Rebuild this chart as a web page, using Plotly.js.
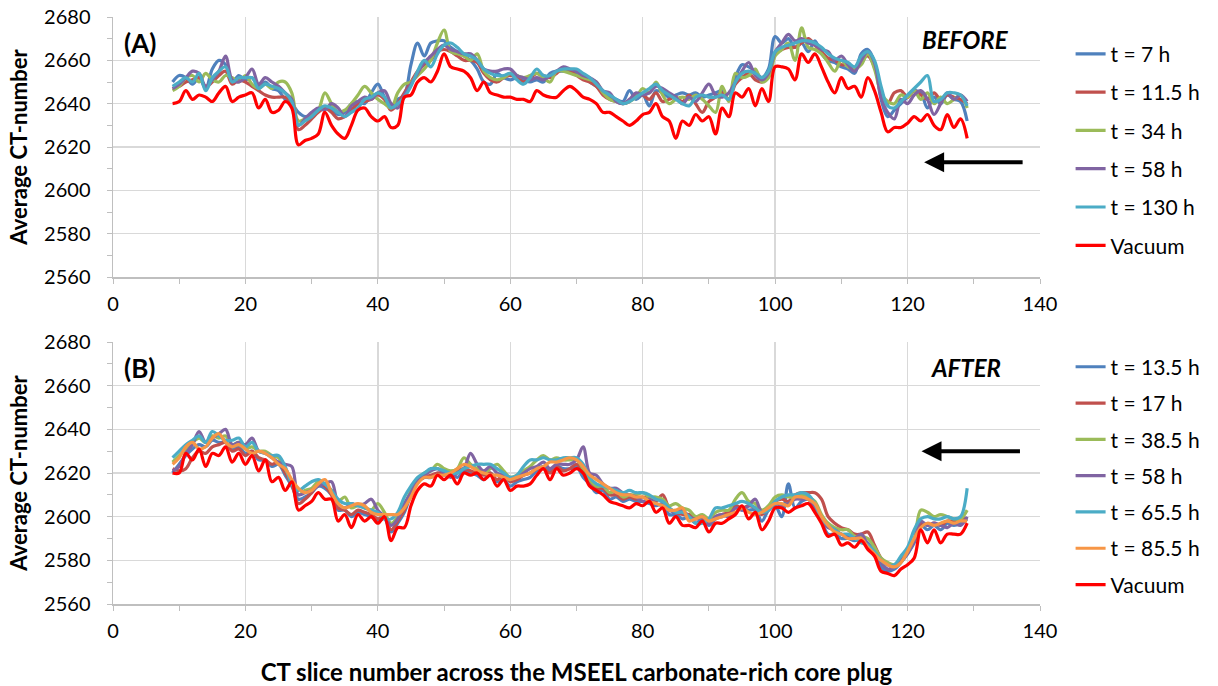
<!DOCTYPE html>
<html>
<head>
<meta charset="utf-8">
<script src="https://cdn.plot.ly/plotly-3.0.1.min.js"></script>
<style>html,body{margin:0;padding:0;background:#fff;}#chart{width:1218px;height:686px;}</style>
</head>
<body>
<div id="chart"></div>
<script>
// CT slice numbers
const slices = [9,10,11,12,13,14,15,16,17,18,19,20,21,22,23,24,25,26,27,28,29,30,31,32,33,34,35,36,37,38,39,40,41,42,43,44,45,46,47,48,49,50,51,52,53,54,55,56,57,58,59,60,61,62,63,64,65,66,67,68,69,70,71,72,73,74,75,76,77,78,79,80,81,82,83,84,85,86,87,88,89,90,91,92,93,94,95,96,97,98,99,100,101,102,103,104,105,106,107,108,109,110,111,112,113,114,115,116,117,118,119,120,121,122,123,124,125,126,127,128,129];

// Panel A (BEFORE)
const namesA = ["t = 7 h","t = 11.5 h","t = 34 h","t = 58 h","t = 130 h","Vacuum"];
const a_t7 = [2650,2653,2652,2649,2652,2647,2656,2660,2658,2650,2653,2651,2652,2648,2650,2647,2646,2642,2640,2636,2634,2635,2637,2638,2637,2635,2636,2640,2641,2640,2645,2649,2643,2639,2642,2644,2658,2668,2662,2668,2669,2669,2666,2664,2662,2660,2656,2650,2649,2654,2652,2651,2652,2651,2650,2651,2650,2654,2655,2655,2655,2654,2653,2650,2648,2645,2643,2642,2641,2646,2642,2644,2639,2646,2645,2643,2644,2645,2644,2645,2643,2644,2645,2646,2642,2652,2658,2657,2655,2652,2656,2671,2668,2670,2666,2668,2664,2669,2663,2660,2659,2657,2656,2654,2663,2665,2659,2642,2634,2637,2640,2643,2646,2645,2638,2643,2640,2644,2642,2641,2632];
const a_t11 = [2647,2648,2650,2651,2652,2648,2650,2653,2655,2649,2651,2650,2648,2646,2644,2643,2643,2643,2640,2628,2630,2633,2636,2638,2636,2633,2634,2637,2640,2641,2642,2644,2642,2637,2640,2645,2650,2655,2658,2660,2664,2665,2664,2662,2660,2660,2659,2654,2651,2650,2652,2653,2652,2650,2652,2654,2653,2652,2654,2656,2655,2653,2651,2650,2648,2644,2642,2641,2640,2641,2644,2644,2642,2645,2641,2642,2643,2641,2644,2640,2636,2641,2643,2645,2642,2649,2652,2654,2651,2650,2653,2663,2665,2666,2666,2668,2670,2667,2664,2661,2660,2658,2658,2656,2660,2662,2657,2646,2640,2645,2646,2643,2646,2644,2642,2645,2642,2644,2643,2642,2640];
const a_t34 = [2646,2648,2652,2653,2650,2654,2651,2650,2653,2652,2650,2653,2649,2647,2649,2647,2650,2650,2645,2632,2633,2635,2637,2645,2640,2636,2637,2640,2644,2648,2645,2642,2640,2638,2645,2649,2650,2653,2656,2660,2668,2674,2664,2663,2662,2660,2663,2655,2652,2651,2652,2654,2653,2652,2653,2654,2652,2650,2655,2655,2654,2653,2652,2651,2650,2645,2642,2641,2640,2641,2643,2647,2645,2650,2644,2640,2642,2643,2642,2644,2642,2639,2636,2648,2641,2654,2652,2653,2656,2650,2652,2662,2665,2668,2660,2675,2666,2665,2663,2659,2655,2660,2657,2656,2658,2663,2656,2645,2641,2640,2644,2643,2646,2642,2645,2640,2643,2640,2642,2644,2638];
const a_t58 = [2647,2649,2652,2655,2654,2648,2651,2655,2662,2651,2650,2652,2656,2649,2652,2650,2648,2645,2642,2630,2633,2636,2638,2637,2640,2638,2634,2639,2641,2643,2642,2645,2646,2640,2638,2644,2649,2654,2659,2662,2665,2667,2665,2664,2663,2663,2660,2656,2655,2655,2656,2656,2653,2652,2651,2652,2651,2653,2655,2657,2656,2655,2653,2652,2650,2646,2645,2641,2640,2642,2645,2644,2645,2648,2647,2645,2643,2640,2643,2641,2645,2649,2644,2643,2645,2650,2655,2659,2653,2651,2654,2664,2668,2672,2669,2670,2668,2667,2665,2664,2660,2662,2658,2655,2660,2664,2659,2643,2636,2633,2642,2640,2644,2646,2642,2635,2640,2645,2642,2644,2641];
const a_t130 = [2648,2650,2652,2650,2654,2646,2652,2655,2657,2650,2652,2652,2652,2647,2649,2648,2647,2645,2641,2630,2632,2634,2637,2639,2638,2636,2634,2636,2638,2642,2643,2645,2643,2638,2640,2643,2648,2655,2660,2657,2663,2667,2668,2666,2663,2662,2660,2656,2654,2653,2653,2654,2651,2649,2652,2656,2653,2653,2655,2656,2656,2656,2654,2652,2649,2646,2644,2642,2640,2641,2643,2645,2647,2649,2646,2644,2642,2640,2639,2643,2644,2643,2643,2644,2642,2650,2654,2655,2654,2652,2655,2664,2666,2667,2668,2669,2669,2668,2666,2663,2661,2660,2659,2657,2662,2664,2660,2648,2639,2638,2641,2644,2647,2650,2653,2641,2642,2645,2645,2644,2639];
const a_vac = [2640,2641,2646,2642,2644,2643,2641,2645,2648,2641,2643,2644,2645,2638,2642,2636,2637,2641,2638,2621,2623,2624,2626,2636,2630,2626,2624,2630,2637,2638,2634,2632,2634,2629,2630,2643,2644,2650,2652,2650,2655,2663,2657,2656,2655,2652,2646,2650,2645,2644,2643,2643,2642,2642,2641,2646,2644,2643,2643,2646,2648,2646,2643,2642,2640,2636,2636,2634,2632,2630,2632,2635,2636,2640,2634,2632,2624,2632,2630,2635,2632,2634,2626,2638,2634,2645,2643,2647,2639,2647,2641,2657,2657,2656,2651,2663,2659,2663,2657,2650,2645,2652,2647,2648,2643,2652,2646,2636,2627,2629,2629,2631,2634,2632,2635,2630,2628,2635,2629,2633,2624];

// Panel B (AFTER)
const namesB = ["t = 13.5 h","t = 17 h","t = 38.5 h","t = 58 h","t = 65.5 h","t = 85.5 h","Vacuum"];
const b_t13 = [2620,2624,2628,2631,2633,2632,2635,2634,2634,2631,2632,2629,2630,2626,2626,2623,2624,2619,2614,2608,2609,2611,2614,2613,2610,2603,2603,2600,2602,2601,2600,2598,2599,2593,2597,2602,2610,2616,2618,2618,2620,2619,2620,2618,2621,2620,2619,2617,2620,2616,2617,2614,2616,2617,2618,2621,2623,2621,2623,2622,2622,2623,2618,2615,2611,2612,2608,2609,2607,2608,2607,2607,2606,2605,2606,2601,2601,2599,2600,2597,2599,2596,2599,2600,2601,2604,2603,2603,2603,2598,2603,2605,2600,2615,2604,2607,2608,2605,2598,2592,2592,2590,2590,2589,2590,2588,2584,2577,2575,2576,2579,2583,2588,2596,2594,2596,2594,2597,2596,2597,2599];
const b_t17 = [2622,2621,2622,2627,2630,2629,2632,2633,2634,2630,2631,2628,2630,2627,2626,2624,2625,2620,2615,2606,2608,2611,2615,2614,2610,2604,2603,2601,2603,2602,2601,2599,2600,2594,2598,2603,2611,2616,2618,2619,2620,2620,2619,2621,2622,2621,2620,2619,2620,2617,2619,2616,2617,2619,2620,2622,2622,2620,2623,2621,2622,2624,2620,2617,2613,2613,2610,2610,2608,2609,2608,2609,2608,2607,2610,2604,2602,2601,2601,2599,2600,2597,2600,2601,2602,2605,2604,2605,2604,2601,2604,2607,2608,2607,2610,2611,2611,2611,2608,2600,2597,2595,2594,2592,2592,2593,2587,2581,2578,2577,2580,2584,2589,2597,2596,2597,2596,2598,2598,2599,2599];
const b_t38 = [2625,2628,2631,2634,2636,2634,2637,2636,2637,2633,2634,2631,2632,2630,2630,2628,2627,2622,2616,2610,2612,2613,2616,2615,2612,2607,2609,2604,2605,2604,2603,2606,2602,2597,2600,2605,2612,2617,2620,2621,2624,2622,2621,2622,2627,2624,2622,2620,2622,2624,2621,2618,2619,2621,2623,2626,2628,2626,2627,2626,2626,2626,2622,2617,2614,2614,2611,2612,2609,2610,2610,2611,2609,2609,2608,2605,2606,2604,2603,2600,2601,2599,2602,2603,2603,2608,2611,2607,2606,2603,2605,2609,2610,2609,2609,2610,2609,2607,2601,2597,2595,2594,2594,2591,2591,2590,2586,2581,2579,2578,2581,2585,2590,2603,2602,2600,2601,2600,2599,2599,2603];
const b_t58 = [2621,2623,2629,2633,2639,2634,2636,2638,2640,2633,2634,2633,2636,2630,2629,2627,2625,2624,2623,2610,2611,2612,2614,2615,2616,2606,2604,2606,2605,2606,2608,2603,2600,2596,2599,2606,2611,2617,2619,2621,2622,2620,2618,2620,2622,2629,2624,2621,2623,2620,2619,2617,2618,2620,2622,2623,2625,2622,2624,2624,2624,2626,2632,2620,2619,2615,2613,2613,2611,2610,2609,2607,2608,2606,2605,2603,2602,2603,2600,2599,2600,2597,2600,2601,2600,2604,2603,2605,2608,2602,2603,2606,2605,2606,2608,2608,2608,2604,2598,2595,2594,2592,2591,2590,2592,2587,2583,2579,2576,2577,2580,2583,2589,2598,2596,2597,2596,2595,2597,2596,2600];
const b_t65 = [2627,2630,2633,2635,2637,2634,2639,2637,2635,2635,2636,2632,2634,2630,2629,2628,2628,2623,2615,2612,2614,2616,2617,2615,2612,2608,2606,2606,2605,2604,2603,2602,2599,2599,2602,2609,2614,2618,2620,2622,2622,2621,2620,2620,2622,2623,2624,2624,2624,2622,2620,2618,2619,2623,2626,2626,2627,2626,2626,2627,2627,2627,2624,2618,2615,2614,2613,2612,2611,2612,2611,2611,2610,2608,2607,2604,2602,2602,2600,2597,2597,2599,2604,2604,2605,2606,2607,2606,2604,2602,2603,2607,2609,2610,2610,2611,2610,2606,2599,2596,2594,2592,2592,2590,2588,2587,2584,2580,2578,2578,2582,2586,2594,2599,2600,2599,2599,2600,2599,2600,2613];
const b_t85 = [2624,2627,2632,2634,2631,2632,2636,2638,2634,2632,2633,2631,2629,2630,2629,2627,2624,2622,2617,2613,2611,2612,2615,2617,2611,2606,2604,2605,2606,2605,2602,2601,2601,2601,2601,2604,2609,2615,2618,2618,2619,2619,2620,2622,2624,2623,2621,2620,2619,2619,2618,2617,2618,2619,2620,2622,2623,2625,2625,2626,2627,2626,2623,2619,2617,2615,2613,2611,2610,2610,2609,2609,2607,2606,2605,2603,2603,2604,2598,2599,2600,2598,2599,2600,2601,2602,2604,2602,2601,2602,2604,2606,2606,2605,2609,2609,2608,2606,2600,2596,2593,2592,2590,2590,2590,2586,2583,2580,2578,2577,2579,2584,2590,2595,2597,2596,2597,2598,2597,2598,2598];
const b_vac = [2620,2620,2629,2626,2631,2623,2629,2628,2632,2625,2629,2624,2628,2621,2626,2616,2618,2612,2616,2603,2605,2607,2611,2608,2608,2598,2601,2595,2601,2598,2600,2597,2600,2589,2595,2595,2605,2612,2615,2614,2619,2617,2619,2615,2620,2619,2620,2617,2619,2614,2617,2612,2614,2614,2615,2619,2622,2617,2622,2619,2620,2622,2620,2614,2612,2610,2607,2606,2605,2604,2606,2605,2607,2602,2604,2597,2600,2596,2596,2595,2598,2593,2597,2597,2599,2601,2605,2599,2602,2594,2598,2604,2604,2602,2604,2605,2606,2602,2597,2591,2592,2587,2588,2586,2589,2585,2582,2575,2574,2573,2576,2578,2581,2594,2588,2594,2588,2592,2592,2592,2597];

const colorsA = ["#4F81BD","#C0504D","#9BBB59","#8064A2","#4BACC6","#FF0000"];
const colorsB = ["#4F81BD","#C0504D","#9BBB59","#8064A2","#4BACC6","#F79646","#FF0000"];
const seriesA = [a_t7,a_t11,a_t34,a_t58,a_t130,a_vac];
const seriesB = [b_t13,b_t17,b_t38,b_t58,b_t65,b_t85,b_vac];

const traces = [];
seriesA.forEach((ys,i)=>{
  traces.push({x:slices,y:ys,type:'scatter',mode:'lines',name:namesA[i],
    line:{color:colorsA[i],width:3.2,shape:'spline',smoothing:1},
    xaxis:'x',yaxis:'y',legend:'legend',legendgroup:'a'+i,hoverinfo:'skip'});
});
seriesB.forEach((ys,i)=>{
  traces.push({x:slices,y:ys,type:'scatter',mode:'lines',name:namesB[i],
    line:{color:colorsB[i],width:3.2,shape:'spline',smoothing:1},
    xaxis:'x2',yaxis:'y2',legend:'legend2',legendgroup:'b'+i,hoverinfo:'skip'});
});

const FONT = 'Lato, "Open Sans", sans-serif';
const xBase = {range:[0,140],dtick:20,tick0:0,showgrid:true,gridcolor:'#d9d9d9',gridwidth:1.5,
  showline:true,linecolor:'#bfbfbf',linewidth:1.5,ticks:'outside',ticklen:5,tickcolor:'#bfbfbf',
  minor:{dtick:10,ticks:'outside',ticklen:5,tickcolor:'#bfbfbf',showgrid:false},ticklabelstandoff:3,
  zeroline:false,tickfont:{family:FONT,size:20,color:'#000'},fixedrange:true};
const yBase = {range:[2560,2680],dtick:20,tick0:2560,showgrid:true,gridcolor:'#d9d9d9',gridwidth:1.5,
  showline:true,linecolor:'#bfbfbf',linewidth:1.5,ticks:'outside',ticklen:5,tickcolor:'#bfbfbf',
  minor:{dtick:10,ticks:'outside',ticklen:5,tickcolor:'#bfbfbf',showgrid:false},ticklabelstandoff:12,
  zeroline:false,tickfont:{family:FONT,size:20,color:'#000'},fixedrange:true,
  title:{text:'<b>Average CT-number</b>',font:{family:FONT,size:22,color:'#000'},standoff:10}};

const layout = {
  width:1218,height:686,
  margin:{l:113,r:178,t:17,b:82},
  paper_bgcolor:'#fff',plot_bgcolor:'#fff',
  showlegend:true,
  xaxis:Object.assign({},xBase,{domain:[0,1],anchor:'y'}),
  yaxis:Object.assign({},yBase,{domain:[0.557,1],anchor:'x'}),
  xaxis2:Object.assign({},xBase,{domain:[0,1],anchor:'y2',
    title:{text:'<b>CT slice number across the MSEEL carbonate-rich core plug</b>',font:{family:FONT,size:24,color:'#000'},standoff:29}}),
  yaxis2:Object.assign({},yBase,{domain:[0,0.4463],anchor:'x2'}),
  legend:{x:1.033,xanchor:'left',y:0.9716,yanchor:'top',tracegroupgap:8,
    font:{family:FONT,size:21,color:'#000'},bgcolor:'rgba(0,0,0,0)',itemclick:false,itemdoubleclick:false},
  legend2:{x:1.033,xanchor:'left',y:0.4385,yanchor:'top',tracegroupgap:6,
    font:{family:FONT,size:21,color:'#000'},bgcolor:'rgba(0,0,0,0)',itemclick:false,itemdoubleclick:false},
  annotations:[
    {xref:'x',yref:'y',x:1.4,y:2668,text:'<b>(A)</b>',showarrow:false,xanchor:'left',yanchor:'middle',font:{family:FONT,size:26,color:'#000'}},
    {xref:'x',yref:'y',x:128.8,y:2669.5,text:'<b><i>BEFORE</i></b>',showarrow:false,xanchor:'center',yanchor:'middle',font:{family:FONT,size:24,color:'#000'}},
    {xref:'x2',yref:'y2',x:1.4,y:2668,text:'<b>(B)</b>',showarrow:false,xanchor:'left',yanchor:'middle',font:{family:FONT,size:26,color:'#000'}},
    {xref:'x2',yref:'y2',x:128.8,y:2668.5,text:'<b><i>AFTER</i></b>',showarrow:false,xanchor:'center',yanchor:'middle',font:{family:FONT,size:24,color:'#000'}},
    {xref:'x',yref:'y',x:122.5,y:2613,axref:'x',ayref:'y',ax:137.6,ay:2613,text:'',showarrow:true,arrowhead:2,arrowsize:1,arrowwidth:4,arrowcolor:'#000'},
    {xref:'x2',yref:'y2',x:122.1,y:2630,axref:'x2',ayref:'y2',ax:137.2,ay:2630,text:'',showarrow:true,arrowhead:2,arrowsize:1,arrowwidth:4,arrowcolor:'#000'}
  ]
};

Plotly.newPlot('chart',traces,layout,{staticPlot:true,displayModeBar:false});
</script>
</body>
</html>
